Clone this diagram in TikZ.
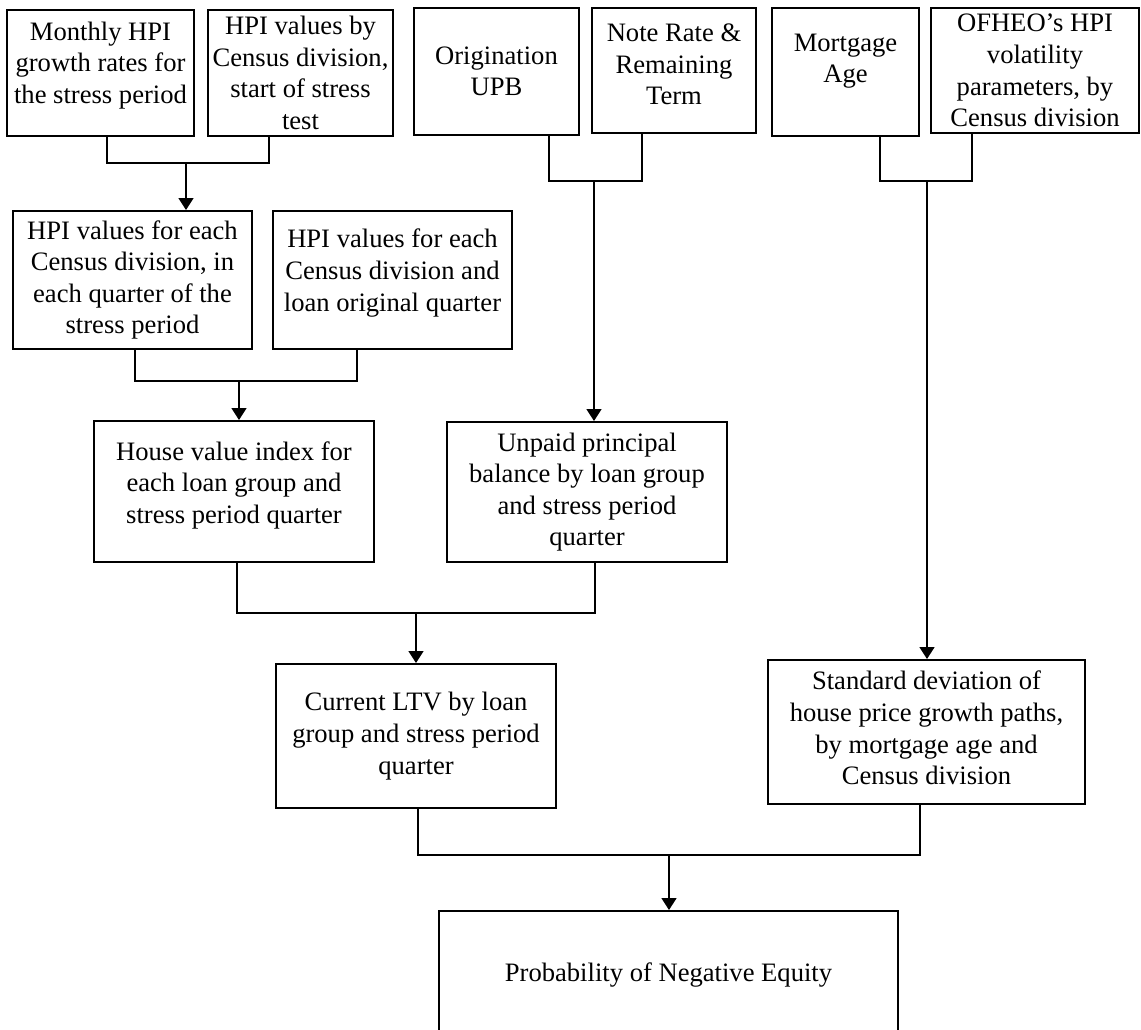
\documentclass[tikz,border=0pt]{standalone}
\usepackage{fontspec}
\setmainfont{Liberation Serif}
\usetikzlibrary{arrows.meta}

\begin{document}
\begin{tikzpicture}[x=0.5pt,y=-0.5pt,
  box/.style={draw,line width=1pt,align=center,inner sep=0pt,font=\fontsize{13.3}{15.8}\selectfont},
  link/.style={line width=0.75pt},
  arr/.style={line width=0.8pt,-{Triangle[width=7.5pt,length=6pt]}}]
\useasboundingbox (0,0) rectangle (1141,1029);
\clip (0,0) rectangle (1141,1029);
% inputs
\node[box,minimum width=93.5pt,minimum height=63pt] (monthly) at (100.5,73) {Monthly HPI\\growth rates for\\the stress period\\[-5.4pt]};
\node[box,minimum width=92.5pt,minimum height=63pt] (hpistart) at (300.5,73) {HPI values by\\Census division,\\start of stress\\test};
\node[box,minimum width=82.5pt,minimum height=63.5pt] (origupb) at (496.5,71.5) {Origination\\UPB};
\node[box,minimum width=82pt,minimum height=62.5pt] (noterate) at (674,70.5) {Note Rate \&\\Remaining\\Term\\[-9.8pt]};
\node[box,minimum width=73.5pt,minimum height=64pt] (mtgage) at (845.5,72) {Mortgage\\Age\\[-1.9pt]};
\node[box,minimum width=104pt,minimum height=62.5pt] (volparam) at (1035,70.5) {OFHEO’s HPI\\volatility\\parameters, by\\Census division};
% intermediate results
\node[box,minimum width=119.5pt,minimum height=69pt] (hpiquarter) at (132.5,280) {HPI values for each\\Census division, in\\each quarter of the\\stress period};
\node[box,minimum width=119.5pt,minimum height=69pt] (hpiorig) at (392.5,280) {HPI values for each\\Census division and\\loan original quarter\\[-5.9pt]};
\node[box,minimum width=140pt,minimum height=70.5pt] (hvi) at (234,491.5) {House value index for\\each loan group and\\stress period quarter\\[-6.9pt]};
\node[box,minimum width=140pt,minimum height=70pt] (upb) at (587,492) {Unpaid principal\\balance by loan group\\and stress period\\quarter};
\node[box,minimum width=140pt,minimum height=72pt] (ltv) at (416,736) {Current LTV by loan\\group and stress period\\quarter};
\node[box,minimum width=158.5pt,minimum height=72pt] (stddev) at (926.5,732) {Standard deviation of\\house price growth paths,\\by mortgage age and\\Census division\\[-11.8pt]};
\node[box,minimum width=229.5pt,minimum height=64pt] (negeq) at (668.5,975) {Probability of Negative Equity};
% joins: left box / right box / target / bar x left / bar x right / stem x / bar y
\foreach \p/\q/\t/\xl/\xr/\xm/\yb in {
  monthly/hpistart/hpiquarter/107/269/186/163,
  origupb/noterate/upb/549/642/594/181,
  mtgage/volparam/stddev/880/972/927/181,
  hpiquarter/hpiorig/hvi/135/357/239/381,
  hvi/upb/ltv/237/595/416/613,
  ltv/stddev/negeq/418/920/669/855}
{
  \draw[link] (\xl,\yb |- \p.south) -- (\xl,\yb) -- (\xr,\yb) -- (\xr,\yb |- \q.south);
  \draw[arr] (\xm,\yb) -- (\xm,\yb |- \t.north);
}
\end{tikzpicture}
\end{document}
